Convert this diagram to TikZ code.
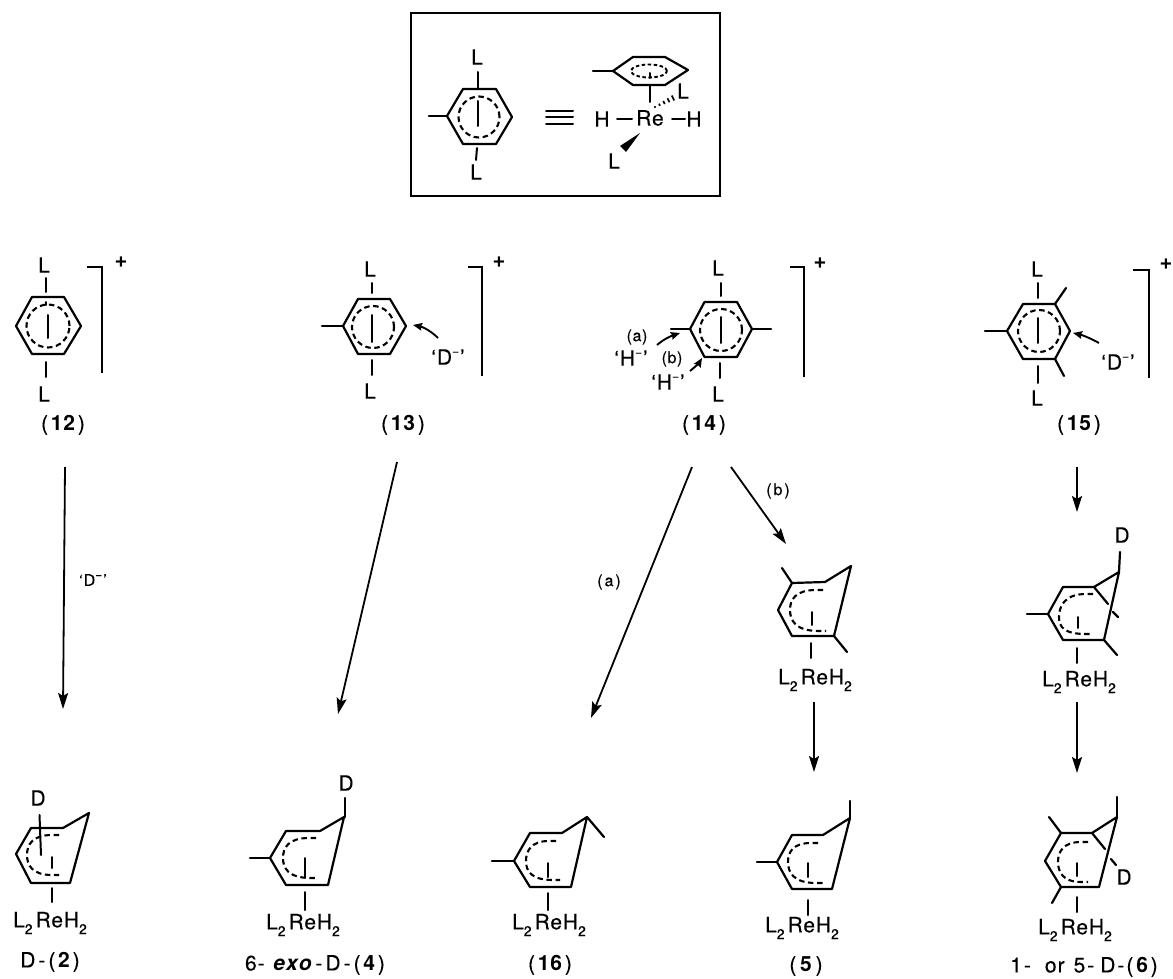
\documentclass[tikz,border=0pt]{standalone}
\usepackage{fontspec}
\setmainfont{TeX Gyre Heros}[LetterSpace=4,UprightFeatures={FakeBold=0.25}]
\usetikzlibrary{arrows.meta}
\newcommand{\subtwo}{\raisebox{-.32em}{\fontsize{14}{14}\selectfont 2}}
\newcommand{\minussup}{\raisebox{.45em}{\fontsize{12}{12}\selectfont −}}
\newcommand{\LReH}{L\subtwo\hspace{3pt}ReH\subtwo}
\newcommand{\dmin}{‘\hspace{1pt}D\minussup\hspace{1pt}’}
\newcommand{\hmin}{‘\hspace{1pt}H\minussup\hspace{1pt}’}
\newcommand{\hexa}[6]{\draw[bond] (#1) -- (#2) -- (#3) -- (#4) -- (#5) -- (#6) -- cycle;}
\newcommand{\dring}[6]{\draw[dring] (#1,#2) -- ({#1-7},#2) .. controls ({#3+5},#2) and (#3,{#4-10}) .. (#3,#4) .. controls (#3,{#4+10}) and ({#3+5},#6) .. ({#5-7},#6) -- (#5,#6);}
\tikzset{
  x=1pt,y=-1pt,
  bond/.style={line width=2.2pt,line join=round,line cap=round},
  thinbond/.style={line width=2pt,line cap=round},
  dring/.style={line width=2.1pt,dash pattern=on 5.5pt off 3.6pt},
  bracketline/.style={line width=1.8pt},
  lab/.style={inner sep=0pt,font=\fontsize{21}{21}\selectfont},
  capt/.style={inner sep=0pt,font=\fontsize{21}{21}\selectfont},
  smalllab/.style={inner sep=0pt,font=\fontsize{16}{16}\selectfont},
  rxn/.style={line width=1.8pt,-{Stealth[length=16pt,width=10pt,inset=3pt]}},
  attack/.style={line width=1.9pt,-{Stealth[length=9pt,width=7.5pt,inset=1pt]}},
  plus/.style={inner sep=0pt,font=\bfseries\fontsize{22}{22}\selectfont},
}
\begin{document}
\begin{tikzpicture}
\useasboundingbox (0,0) rectangle (1173,979);
% framed key
\draw[line width=2pt,line join=miter] (411,13) rectangle (720,196);
\hexa{447,116}{463,89}{496,89}{512,117}{496,144}{463,144}
\draw[bond] (429,116) -- (447,116);
\draw[thinbond] (478,72) -- (478,88);
\draw[thinbond] (477,148) -- (476,160);
\draw[thinbond] (478,101) -- (478,126);
\draw[dring] (479,117) circle[radius=20.5pt];
\node[lab] (keyLa) at (477,57) {L};
\node[lab] (keyLb) at (476,172) {L};
\draw[thinbond] (546,111) -- (573,111) (546,117.5) -- (573,117.5) (546,124) -- (573,124);
\hexa{613,71}{633,57}{665,57}{688,70}{665,85}{633,85}
\draw[bond] (593,71) -- (613,71);
\draw[line width=1.9pt,dash pattern=on 3.5pt off 2.5pt] (649,71) ellipse[x radius=18pt,y radius=6.5pt];
\draw[thinbond] (650,73) -- (650,78);
\draw[thinbond] (650,85) -- (650,102);
\node[lab] (keyRe) at (650,118) {Re};
\node[lab] (keyHa) at (602,119) {H};
\node[lab] (keyHb) at (694,119) {H};
\draw[thinbond] (617,119) -- (632,119);
\draw[thinbond] (672,119) -- (685,119);
\node[lab] (keyLc) at (683,91) {L};
\node[lab] (keyLd) at (614,161) {L};
\foreach \t/\h in {0/0.8,0.25/1.2,0.5/1.7,0.75/2.2,1/2.8}{
  \draw[line width=1.6pt] ({655+18*\t+0.45*\h},{107-9*\t+0.89*\h}) -- ({655+18*\t-0.45*\h},{107-9*\t-0.89*\h});
}
\fill (640,133) -- (620,146) -- (626,152) -- cycle;
% (12)
\hexa{16,326}{32,297}{64,297}{81,326}{64,354}{32,354}
\draw[dring] (48,326) circle[radius=21.5pt];
\draw[thinbond] (46,278) -- (46,292);
\draw[thinbond] (48,315) -- (48,338);
\draw[thinbond] (46,302) -- (46,305);
\draw[thinbond] (46,362) -- (46,377);
\node[lab] (Lt12) at (44,265) {L};
\node[lab] (Lb12) at (44,394) {L};
\draw[bracketline] (87,267) -- (102,267) -- (102,373);
\node[plus] (p12) at (121,262) {+};
\node[capt] (n12) at (63,425) {(\hspace{2pt}\textbf{12}\hspace{2pt})};
% (13)
\hexa{343,326}{358,299}{390,299}{406,326}{390,354}{358,354}
\draw[bond] (322,326) -- (343,326);
\draw[dring] (373,327) circle[radius=21pt];
\draw[thinbond] (372,283) -- (372,293);
\draw[thinbond] (372,315) -- (372,342);
\draw[thinbond] (372,360) -- (372,375);
\node[lab] (Lt13) at (370,269) {L};
\node[lab] (Lb13) at (370,391) {L};
\draw[bracketline] (468,267) -- (482,267) -- (482,376);
\node[plus] (p13) at (499,262) {+};
\node[lab] (D13) at (448,357) {\dmin};
\coordinate (c13a) at (438,338);
\coordinate (c13b) at (413,325);
\draw[attack] (c13a) .. controls (431,331) and (423,327) .. (c13b);
\node[capt] (n13) at (403,425) {(\hspace{2pt}\textbf{13}\hspace{2pt})};
% (14)
\hexa{690,329}{704.5,302}{737,302}{752,329}{737,357}{704.5,357}
\draw[bond] (671,329) -- (690,329);
\draw[bond] (752,329) -- (771,329);
\draw[dring] (721,330) circle[radius=21pt];
\draw[thinbond] (721,283) -- (721,296);
\draw[thinbond] (721,317) -- (721,343);
\draw[thinbond] (720,363) -- (720,378);
\node[lab] (Lt14) at (718,268) {L};
\node[lab] (Lb14) at (718,394) {L};
\draw[bracketline] (790,267) -- (804,267) -- (804,377);
\node[plus] (p14) at (820,263) {+};
\node[smalllab] (a14) at (637,337) {(a)};
\node[lab] (Ha14) at (631,358) {\hmin};
\node[smalllab] (b14) at (672,359) {(b)};
\node[lab] (Hb14) at (668,382) {\hmin};
\coordinate (c14a) at (657,345);
\coordinate (c14b) at (680,333);
\coordinate (c14c) at (690,371);
\coordinate (c14d) at (702,358);
\draw[attack] (c14a) .. controls (664,339) and (671,336) .. (c14b);
\draw[attack] (c14c) .. controls (695,367) and (699,363) .. (c14d);
\node[capt] (n14) at (704,425) {(\hspace{2pt}\textbf{14}\hspace{2pt})};
% (15)
\hexa{1007,331}{1023,304}{1055,304}{1070,331}{1055,359}{1023,359}
\draw[bond] (985,331) -- (1007,331);
\draw[bond] (1055,304) -- (1066,288);
\draw[bond] (1055,359) -- (1064,376);
\draw[dring] (1039,331) circle[radius=21pt];
\draw[thinbond] (1038,283) -- (1038,298);
\draw[thinbond] (1038,318) -- (1038,343);
\draw[thinbond] (1038,366) -- (1038,383);
\node[lab] (Lt15) at (1037,269) {L};
\node[lab] (Lb15) at (1037,398) {L};
\draw[bracketline] (1133,270) -- (1149,270) -- (1149,378);
\node[plus] (p15) at (1166,264) {+};
\node[lab] (D15) at (1118,362) {\dmin};
\coordinate (c15a) at (1099,343);
\coordinate (c15b) at (1073,333);
\draw[attack] (c15a) .. controls (1090,338) and (1082,335) .. (c15b);
\node[capt] (n15) at (1079,425) {(\hspace{2pt}\textbf{15}\hspace{2pt})};
% reaction arrows
\coordinate (s12) at (65,467); \coordinate (e12) at (63,709);
\coordinate (s13) at (397,462); \coordinate (e13) at (338,714);
\coordinate (s14a) at (692,467); \coordinate (e14a) at (591,718);
\coordinate (s14b) at (731,467); \coordinate (e14b) at (786,544);
\coordinate (s15) at (1077,467); \coordinate (e15) at (1077,512);
\coordinate (s5) at (814,702); \coordinate (e5) at (814,772);
\coordinate (s6) at (1077,702); \coordinate (e6) at (1077,773);
\draw[rxn] (s12) -- (e12);
\draw[rxn] (s13) -- (e13);
\draw[rxn] (s14a) -- (e14a);
\draw[rxn] (s14b) -- (e14b);
\draw[rxn] (s15) -- (e15);
\draw[rxn] (s5) -- (e5);
\draw[rxn] (s6) -- (e6);
\node[smalllab] (Dq12) at (93,580) {\dmin};
\node[smalllab] (la) at (609,582) {(\hspace{2pt}a\hspace{2pt})};
\node[smalllab] (lb) at (778,491) {(\hspace{2pt}b\hspace{2pt})};
% intermediate (b)
\hexa{778,610}{792,583}{825,582}{851,566}{834,636}{792,636}
\draw[bond] (792,583) -- (782,568);
\draw[bond] (834,636) -- (847,652);
\dring{823}{590}{790}{610}{826}{631}
\draw[thinbond] (812,612) -- (812,625);
\draw[thinbond] (811,643) -- (811,658);
\node[lab] (r5i) at (815,680) {\LReH};
% intermediate from (15)
\hexa{1048,614}{1063,587}{1094,587}{1119,572}{1104,640}{1063,640}
\draw[bond] (1120,552) -- (1119,572);
\draw[bond] (1048,614) -- (1027,614);
\draw[bond] (1104,640) -- (1117,655);
\draw[bond] (1094,587) -- (1108,604);
\draw[bond] (1113,612) -- (1118,617);
\dring{1093}{594}{1059}{617}{1093}{634}
\draw[thinbond] (1078,617) -- (1078,628);
\draw[thinbond] (1077,648) -- (1077,663);
\node[lab] (D6i) at (1122,535) {D};
\node[lab] (r6i) at (1079,682) {\LReH};
% D-(2)
\hexa{16,854}{31,828}{63,828}{89,813}{70,883}{31,883}
\draw[thinbond] (39.5,815) -- (41,855);
\dring{59}{835}{27}{855}{59}{875}
\draw[thinbond] (52,857) -- (52,868);
\draw[thinbond] (52,888) -- (52,902);
\node[lab] (D2) at (38,798) {D};
\node[lab] (r2) at (50,923) {\LReH};
\node[capt] (n2) at (50,962) {D\hspace{3pt}-\hspace{3pt}(\hspace{2pt}\textbf{2}\hspace{2pt})};
% 6-exo-D-(4)
\hexa{270,858}{286,831}{320,831}{344,817}{328,885}{286,885}
\draw[bond] (250,858) -- (270,858);
\draw[bond] (345,798) -- (345,817);
\dring{316}{838}{283}{858}{318}{878}
\draw[thinbond] (305,858) -- (305,877);
\draw[thinbond] (305,892) -- (305,910);
\node[lab] (D4) at (346,783) {D};
\node[lab] (r4) at (303,925) {\LReH};
\node[capt] (n4) at (315,965) {6-\hspace{8pt}\textbf{\textit{e\hspace{1pt}x\hspace{1pt}o}}\hspace{3pt}-\hspace{3pt}D\hspace{3pt}-\hspace{3pt}(\hspace{2pt}\textbf{4}\hspace{2pt})};
% (16)
\hexa{514,861}{530,833}{562,833}{587,817}{571,887}{530,887}
\draw[bond] (492,861) -- (514,861);
\draw[bond] (587,817) -- (604,837);
\dring{556}{841}{526}{861}{560}{880}
\draw[thinbond] (548,863) -- (548,877);
\draw[thinbond] (548,893) -- (548,910);
\node[lab] (r16) at (549,925) {\LReH};
\node[capt] (n16) at (550,965) {(\hspace{2pt}\textbf{16}\hspace{2pt})};
% (5)
\hexa{777,862}{792,835}{823,835}{850,818}{832,889}{792,889}
\draw[bond] (757,862) -- (777,862);
\draw[bond] (850,801) -- (850,818);
\dring{818}{843}{788}{862}{823}{883}
\draw[thinbond] (808,863) -- (808,877);
\draw[thinbond] (808,900) -- (808,915);
\node[lab] (r5) at (802,928) {\LReH};
\node[capt] (n5) at (806,966) {(\hspace{3pt}\textbf{5}\hspace{3pt})};
% 1- or 5-D-(6)
\hexa{1045,861}{1061,833}{1092,833}{1117,817}{1099,887}{1061,887}
\draw[bond] (1117,797) -- (1117,817);
\draw[bond] (1061,833) -- (1049,817);
\draw[bond] (1061,887) -- (1052,903);
\draw[bond] (1092,833) -- (1105,849);
\draw[bond] (1111,859) -- (1116,865);
\dring{1088}{842}{1058}{862}{1088}{882}
\draw[thinbond] (1077,863) -- (1077,876);
\draw[thinbond] (1077,897) -- (1077,912);
\node[lab] (D6) at (1124,877) {D};
\node[lab] (r6) at (1075,930) {\LReH};
\node[capt] (n6) at (1084,967) {1\hspace{2pt}-\hspace{14pt}o\hspace{1pt}r\hspace{9pt}5\hspace{2pt}-\hspace{6pt}D\hspace{2pt}-\hspace{2pt}(\hspace{2pt}\textbf{6}\hspace{2pt})};
\end{tikzpicture}
\end{document}
